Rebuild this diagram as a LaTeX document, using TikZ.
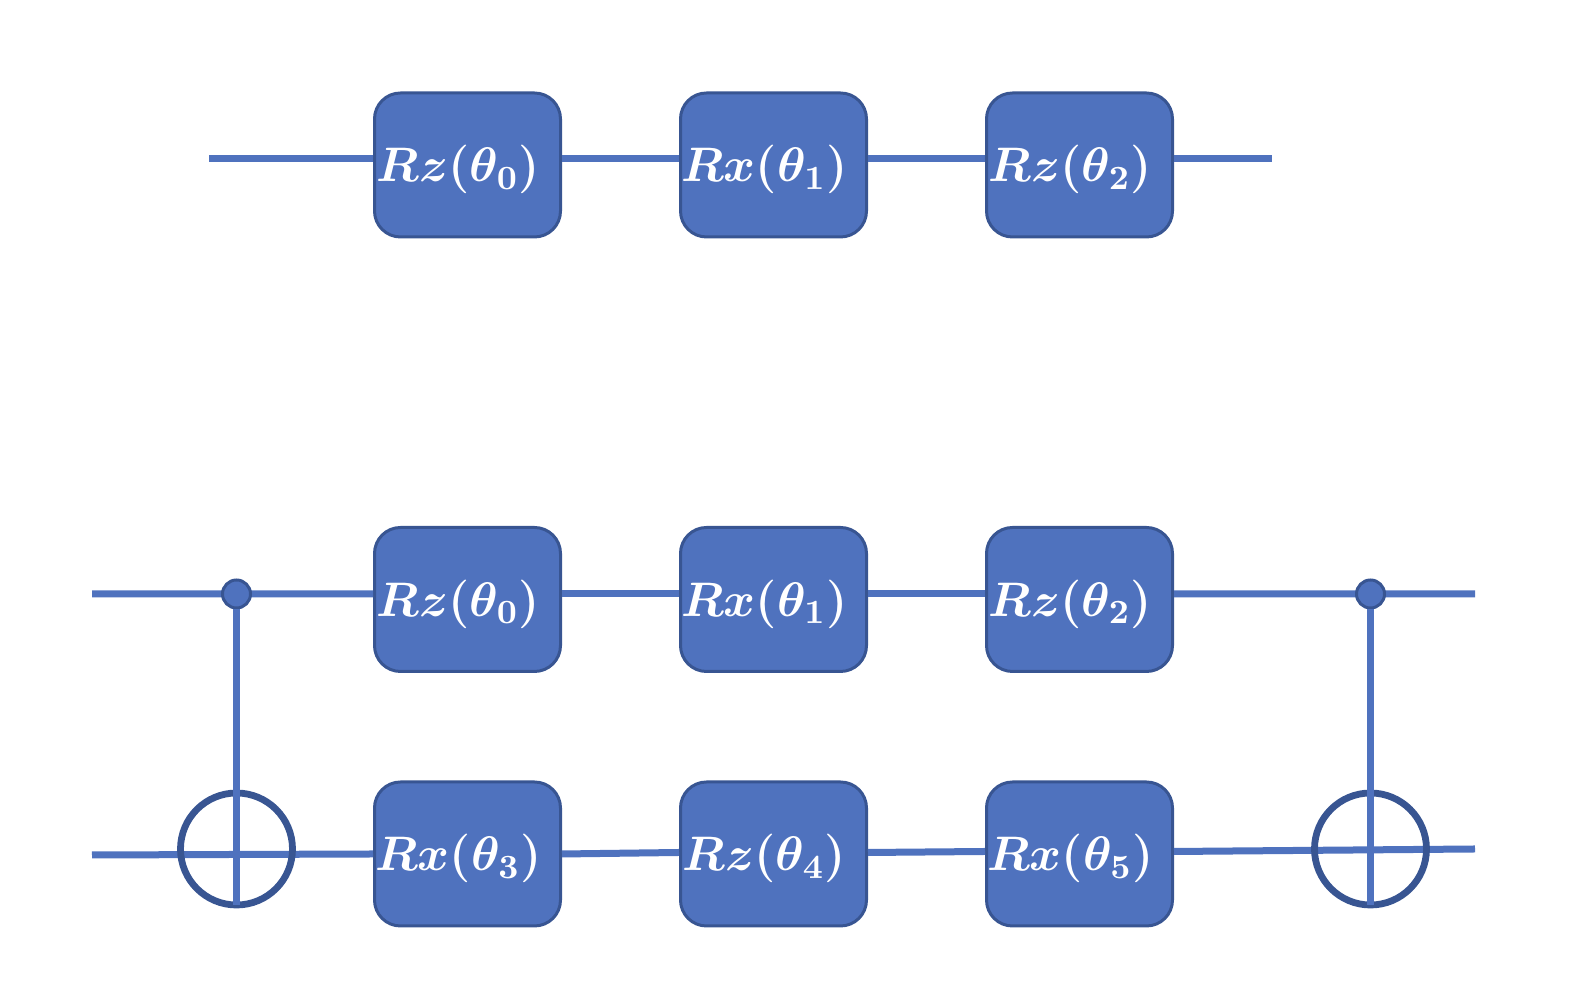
\documentclass[tikz,border=0pt]{standalone}
\usepackage{fix-cm}
\usepackage{amsmath,amssymb}
\usepackage{xcolor}
\usepackage{tikz}
\definecolor{gatefill}{HTML}{4F72BE}
\definecolor{gateline}{HTML}{385592}
\newcommand{\glab}[1]{\mbox{\boldmath$#1$}\kern0.18cm}

\begin{document}
\begin{tikzpicture}[
  gate/.style={draw=gateline, fill=gatefill, line width=0.03cm, rounded corners=0.26cm, text=white, font=\fontsize{13.8}{17}\selectfont, text height=0.5cm, text depth=0.16cm, minimum width=1.86cm, minimum height=1.44cm, inner sep=0pt},
  wire/.style={draw=gatefill, line width=0.07cm},
  ctrl/.style={circle, draw=gateline, fill=gatefill, line width=0.03cm, minimum size=0.28cm, inner sep=0pt},
  target/.style={circle, draw=gateline, line width=0.068cm, minimum size=1.12cm, inner sep=0pt, outer sep=0pt}
]
\useasboundingbox (0,0) rectangle (15.78,10.02);
\node[gate] (a0) at (4.675,8.37) {\glab{Rz(\theta_0)}};
\node[gate] (a1) at (7.735,8.37) {\glab{Rx(\theta_1)}};
\node[gate] (a2) at (10.795,8.37) {\glab{Rz(\theta_2)}};
\node[gate] (b0) at (4.675,4.025) {\glab{Rz(\theta_0)}};
\node[gate] (b1) at (7.735,4.025) {\glab{Rx(\theta_1)}};
\node[gate] (b2) at (10.795,4.025) {\glab{Rz(\theta_2)}};
\node[gate] (c0) at (4.675,1.48) {\glab{Rx(\theta_3)}};
\node[gate] (c1) at (7.735,1.48) {\glab{Rz(\theta_4)}};
\node[gate] (c2) at (10.795,1.48) {\glab{Rx(\theta_5)}};
\coordinate (ain) at (2.09,8.43);
\coordinate (aout) at (12.72,8.43);
\coordinate (bin) at (0.92,4.08);
\coordinate (bout) at (14.75,4.08);
\coordinate (cin) at (0.92,1.47);
\coordinate (cout) at (14.75,1.53);
\draw[wire] (ain) -- ([yshift=0.06cm]a0.west);
\draw[wire] ([yshift=0.06cm]a2.east) -- (aout);
\draw[wire] (bin) -- ([yshift=0.055cm]b0.west);
\draw[wire] ([yshift=0.055cm]b2.east) -- (bout);
\foreach \a/\b in {a0/a1,a1/a2}
  \draw[wire] ([yshift=0.06cm]\a.east) -- ([yshift=0.06cm]\b.west);
\foreach \a/\b in {b0/b1,b1/b2}
  \draw[wire] ([yshift=0.055cm]\a.east) -- ([yshift=0.055cm]\b.west);
\draw[wire] (cin) -- (c0.west);
\draw[wire] (c0.east) -- ([yshift=0.015cm]c1.west);
\draw[wire] ([yshift=0.015cm]c1.east) -- ([yshift=0.025cm]c2.west);
\draw[wire] ([yshift=0.025cm]c2.east) -- (cout);
\node[target] (t0) at (2.365,1.53) {};
\node[target] (t1) at (13.705,1.53) {};
\node[ctrl] (d0) at (2.365,4.08) {};
\node[ctrl] (d1) at (13.705,4.08) {};
\foreach \i in {0,1}
  \draw[wire] (d\i.south) -- (t\i.south);
\end{tikzpicture}
\end{document}
